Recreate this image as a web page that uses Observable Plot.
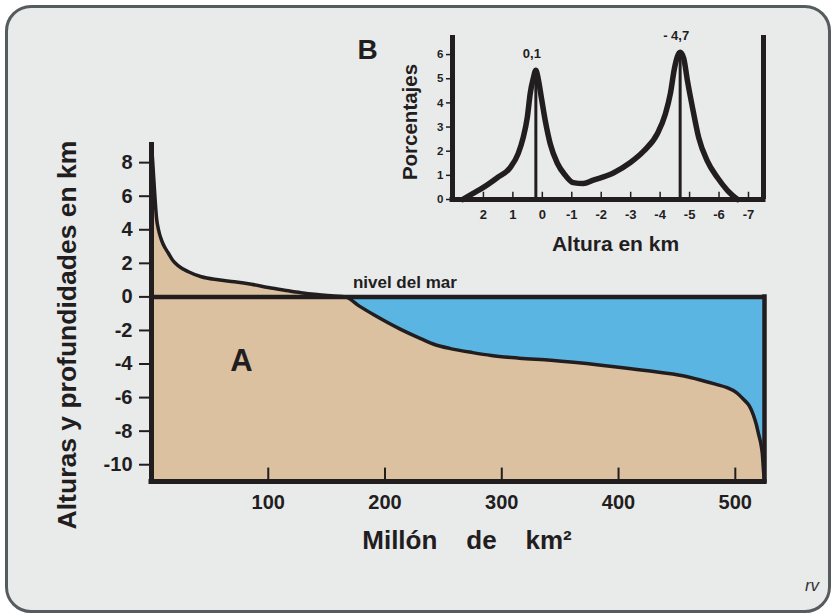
<!DOCTYPE html>
<html><head><meta charset="utf-8">
<script src="https://cdn.jsdelivr.net/npm/d3@7"></script>
<script src="https://cdn.jsdelivr.net/npm/@observablehq/plot@0.6"></script>
<style>
html,body{margin:0;padding:0;background:#fff;}
#page{position:relative;width:835px;height:616px;overflow:hidden;font-family:"Liberation Sans",Arial,Helvetica,sans-serif;}
#card{position:absolute;left:5px;top:5px;width:826px;height:608px;box-sizing:border-box;border:3px solid #565b5d;border-radius:26px;background:#e9eaea;}
#page svg{position:absolute;left:0;top:0;}
</style></head><body>
<div id="page"><div id="card"></div></div>
<script>
// A: hypsometric curve (cumulative area in million km², elevation in km)
const areaMkm2 = [0, 0.8, 1.8, 3, 4.3, 6, 8.5, 11, 14.5, 18, 23, 31.6, 42.7, 57, 71, 85.5, 100, 114, 128, 142, 156, 166, 178, 190, 213, 231, 243, 256, 275, 291, 315, 342, 385, 427, 455, 470, 483, 493, 501, 507, 512, 515.5, 518, 520, 522, 523.2, 524.2, 525];
const elevationKm = [9.0, 8.3, 7.2, 5.9, 4.7, 4.0, 3.4, 3.0, 2.6, 2.2, 1.85, 1.5, 1.2, 1.02, 0.9, 0.75, 0.56, 0.4, 0.25, 0.14, 0.06, 0, -0.55, -1.05, -1.92, -2.5, -2.85, -3.08, -3.32, -3.49, -3.65, -3.78, -4.07, -4.42, -4.7, -4.95, -5.2, -5.41, -5.7, -6.1, -6.5, -7.04, -7.6, -8.2, -8.8, -9.4, -10.4, -11];
const xTicks = [100, 200, 300, 400, 500];
const yTicks = [8, 6, 4, 2, 0, -2, -4, -6, -8, -10];

// B: frequency distribution of elevations (altitude km, percent)
const insetAltKm = [2.7, 2.35, 2.0, 1.53, 1.09, 0.82, 0.65, 0.51, 0.41, 0.31, 0.22, 0.14, 0.03, -0.1, -0.27, -0.51, -0.78, -1.05, -1.39, -1.73, -2.41, -2.99, -3.44, -3.91, -4.18, -4.35, -4.49, -4.68, -4.8, -4.93, -5.1, -5.31, -5.6, -5.95, -6.29, -6.63];
const insetPct = [0, 0.25, 0.5, 0.9, 1.32, 1.9, 2.56, 3.4, 4.4, 5.0, 5.35, 5.0, 4.2, 3.26, 2.3, 1.5, 1.0, 0.7, 0.66, 0.8, 1.1, 1.53, 2.0, 2.73, 3.55, 4.4, 5.45, 6.1, 5.85, 4.9, 3.8, 2.56, 1.6, 0.9, 0.37, 0];
const peakAltKm = [0.22, -4.68];
const peakPct = [5.35, 6.1];
const peakLabels = ["0,1", "- 4,7"];
const insetXTicks = [2, 1, 0, -1, -2, -3, -4, -5, -6, -7];
const insetYTicks = [0, 1, 2, 3, 4, 5, 6];

const font = '"Liberation Sans", Arial, Helvetica, sans-serif';
const ink = "#221e1f";
const tan = "#dbc1a0";
const blue = "#5bb5e3";
const svgStyle = {background: "transparent", overflow: "visible", fontFamily: font, color: ink};

const hyp = areaMkm2.map((x, i) => ({x, h: elevationKm[i]}));
const xMax = 525, yMin = -11, yMax = 9.2;

const main = Plot.plot({
  width: 835, height: 616,
  marginLeft: 151, marginRight: 71, marginTop: 142, marginBottom: 135,
  style: svgStyle,
  x: {domain: [0, xMax]},
  y: {domain: [yMin, yMax]},
  marks: [
    Plot.areaY(hyp, {x: "x", y1: yMin, y2: "h", fill: tan, curve: "monotone-x"}),
    Plot.areaY(hyp, {x: "x", y1: d => Math.min(d.h, 0), y2: 0, fill: blue, curve: "monotone-x"}),
    Plot.line(hyp, {x: "x", y: "h", stroke: ink, strokeWidth: 3.5, curve: "monotone-x"}),
    Plot.ruleY([0], {x1: 0, x2: xMax, stroke: ink, strokeWidth: 4.5}),
    Plot.ruleY([yMin], {x1: 0, x2: xMax, stroke: ink, strokeWidth: 5, strokeLinecap: "square"}),
    Plot.ruleX([xMax], {y1: yMin, y2: 0, stroke: ink, strokeWidth: 4.5, strokeLinecap: "square"}),
    Plot.ruleX([0], {y1: yMin, y2: yMax, stroke: ink, strokeWidth: 5}),
    Plot.ruleX(xTicks, {y1: yMin, y2: -10.2, stroke: ink, strokeWidth: 2}),
    Plot.axisX({ticks: xTicks, tickSize: 0, tickPadding: 13, fontSize: 20, fontWeight: "bold", color: ink, label: null, tickFormat: d => String(d)}),
    Plot.axisY({ticks: yTicks, tickSize: 12, tickPadding: 7, fontSize: 20, fontWeight: "bold", color: ink, strokeWidth: 2, label: null, tickFormat: d => String(d)}),
    Plot.text(["A"], {x: 77, y: -4.4, lineAnchor: "bottom", fontSize: 31, fontWeight: "bold", fill: ink}),
    Plot.text(["nivel del mar"], {x: 217, y: 0, dy: -9, lineAnchor: "bottom", fontSize: 17, fontWeight: "bold", fill: ink}),
    Plot.text(["Alturas y profundidades en km"], {frameAnchor: "left", dx: -83.5, dy: 23, rotate: -90, lineAnchor: "middle", textAnchor: "middle", fontSize: 26.5, fontWeight: "bold", fill: ink}),
    Plot.text(["Millón\u00a0\u00a0\u00a0\u00a0de\u00a0\u00a0\u00a0\u00a0km²"], {frameAnchor: "bottom", dx: 9, dy: 67, lineAnchor: "bottom", textAnchor: "middle", fontSize: 26, fontWeight: "bold", fill: ink}),
    Plot.text(["rv"], {frameAnchor: "bottom-right", dx: 47.5, dy: 109, lineAnchor: "bottom", textAnchor: "middle", fontSize: 17, fontStyle: "italic", fill: "#333"})
  ]
});

const dist = insetAltKm.map((a, i) => ({a, p: insetPct[i]}));
const peaks = peakAltKm.map((a, i) => ({a, p: peakPct[i], label: peakLabels[i]}));
const ixL = 3.05, ixR = -7.51, iyTop = 6.79;

const inset = Plot.plot({
  width: 835, height: 616,
  marginLeft: 452, marginRight: 72, marginTop: 35, marginBottom: 417,
  style: svgStyle,
  x: {domain: [ixL, ixR]},
  y: {domain: [0, iyTop]},
  marks: [
    Plot.ruleX(peaks, {x: "a", y1: 0, y2: "p", stroke: ink, strokeWidth: 3}),
    Plot.line(dist, {x: "a", y: "p", stroke: ink, strokeWidth: 5.5, curve: "monotone-x", strokeLinejoin: "round", strokeLinecap: "round"}),
    Plot.ruleY([0], {x1: ixL, x2: ixR, stroke: ink, strokeWidth: 5, strokeLinecap: "square"}),
    Plot.ruleX([ixL, ixR], {y1: 0, y2: iyTop, stroke: ink, strokeWidth: 5}),
    Plot.ruleX(insetXTicks, {y1: 0, y2: 0.3, stroke: ink, strokeWidth: 1.5}),
    Plot.axisX({ticks: insetXTicks, tickSize: 0, tickPadding: 10, fontSize: 13, fontWeight: "bold", color: ink, label: null, tickFormat: d => String(d)}),
    Plot.axisY({ticks: insetYTicks, tickSize: 6, tickPadding: 3, fontSize: 11.5, fontWeight: "bold", color: ink, strokeWidth: 1.5, label: null, tickFormat: d => String(d)}),
    Plot.text(peaks, {x: "a", y: "p", text: "label", dx: -4, dy: -12, lineAnchor: "bottom", fontSize: 13, fontWeight: "bold", fill: ink}),
    Plot.text(["Porcentajes"], {frameAnchor: "left", dx: -42.5, dy: 4.5, rotate: -90, lineAnchor: "middle", textAnchor: "middle", fontSize: 20.5, fontWeight: "bold", fill: ink}),
    Plot.text(["Altura en km"], {frameAnchor: "bottom", dx: 7.5, dy: 45, lineAnchor: "middle", textAnchor: "middle", fontSize: 21, fontWeight: "bold", fill: ink}),
    Plot.text(["B"], {frameAnchor: "top-left", dx: -85, dy: 23, lineAnchor: "bottom", textAnchor: "middle", fontSize: 28, fontWeight: "bold", fill: ink})
  ]
});

const page = document.getElementById("page");
page.appendChild(main);
page.appendChild(inset);
</script>
</body></html>
